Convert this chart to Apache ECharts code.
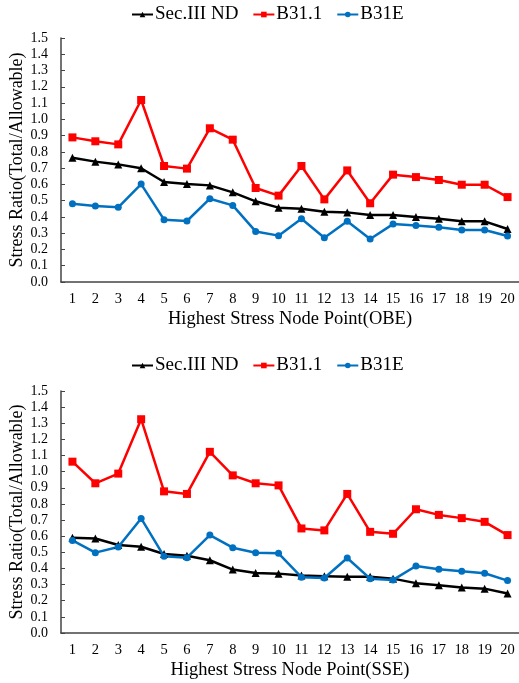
<!DOCTYPE html>
<html>
<head>
<meta charset="utf-8">
<script src="https://cdn.jsdelivr.net/npm/echarts@6/dist/echarts.min.js"></script>
<style>
  html, body { margin: 0; padding: 0; background: #fff; }
  #chart { width: 519px; height: 683px; }
</style>
</head>
<body>
<div id="chart"></div>
<script>
// Node points along the x axis
const nodes = ['1','2','3','4','5','6','7','8','9','10','11','12','13','14','15','16','17','18','19','20'];

// OBE load case: stress ratios per code
const obeSecIII = [0.764, 0.740, 0.723, 0.699, 0.615, 0.602, 0.594, 0.551, 0.496, 0.457,
                   0.451, 0.432, 0.428, 0.412, 0.412, 0.400, 0.389, 0.373, 0.373, 0.326];
const obeB311   = [0.889, 0.865, 0.846, 1.119, 0.713, 0.697, 0.945, 0.875, 0.578, 0.531,
                   0.713, 0.508, 0.686, 0.484, 0.660, 0.645, 0.627, 0.598, 0.598, 0.522];
const obeB31E   = [0.481, 0.467, 0.459, 0.602, 0.383, 0.375, 0.512, 0.471, 0.311, 0.285,
                   0.389, 0.272, 0.373, 0.264, 0.356, 0.348, 0.336, 0.320, 0.320, 0.283];

// SSE load case: stress ratios per code
const sseSecIII = [0.590, 0.586, 0.545, 0.535, 0.490, 0.479, 0.451, 0.393, 0.372, 0.368,
                   0.356, 0.352, 0.348, 0.348, 0.337, 0.309, 0.296, 0.282, 0.275, 0.245];
const sseB311   = [1.062, 0.928, 0.988, 1.325, 0.878, 0.862, 1.123, 0.977, 0.928, 0.915,
                   0.648, 0.636, 0.862, 0.627, 0.615, 0.767, 0.732, 0.712, 0.689, 0.607];
const sseB31E   = [0.574, 0.498, 0.533, 0.710, 0.475, 0.467, 0.607, 0.529, 0.498, 0.494,
                   0.346, 0.341, 0.465, 0.337, 0.329, 0.415, 0.395, 0.383, 0.370, 0.325];

const seriesNames = ['Sec.III ND', 'B31.1', 'B31E'];
const xTitles = ['Highest Stress Node Point(OBE)', 'Highest Stress Node Point(SSE)'];
const yTitle = 'Stress Ratio(Total/Allowable)';

const FONT = '"Liberation Serif", "DejaVu Serif", serif';
const styles = [
  { color: '#000000', symbol: 'triangle', symbolSize: 8 },
  { color: '#ff0000', symbol: 'rect', symbolSize: 8 },
  { color: '#0070c0', symbol: 'circle', symbolSize: 7 }
];

const grids = [
  { left: 61, top: 38, width: 458, height: 244, outerBoundsMode: 'none', containLabel: false },
  { left: 61, top: 391, width: 458, height: 242, outerBoundsMode: 'none', containLabel: false }
];

function xAxis(i) {
  return {
    type: 'category', gridIndex: i, data: nodes, boundaryGap: true,
    name: xTitles[i], nameLocation: 'middle', nameGap: 28,
    nameTextStyle: { fontFamily: FONT, fontSize: 18.5, color: '#000' },
    axisLine: { lineStyle: { color: '#444', width: 1.5 } },
    axisTick: { alignWithLabel: true, inside: true, length: 4, lineStyle: { color: '#444' } },
    axisLabel: { fontFamily: FONT, fontSize: 14.5, color: '#000', margin: 10, interval: 0 },
    splitLine: { show: false }
  };
}
function yAxis(i) {
  return {
    type: 'value', gridIndex: i, min: 0, max: 1.5, interval: 0.1,
    name: yTitle, nameLocation: 'middle', nameGap: 35, nameRotate: 90,
    nameMoveOverlap: false,
    nameTextStyle: { fontFamily: FONT, fontSize: 18, color: '#000' },
    axisLine: { show: true, lineStyle: { color: '#444', width: 1.5 } },
    axisTick: { show: true, inside: true, length: 4, lineStyle: { color: '#444' } },
    axisLabel: { fontFamily: FONT, fontSize: 14, color: '#000', margin: 13,
                 formatter: v => v.toFixed(1) },
    splitLine: { show: false }
  };
}

const sets = [[obeSecIII, obeB311, obeB31E], [sseSecIII, sseB311, sseB31E]];
const series = [];
sets.forEach((group, gi) => {
  group.forEach((vals, si) => {
    series.push({
      type: 'line', name: seriesNames[si], xAxisIndex: gi, yAxisIndex: gi,
      data: vals, symbol: styles[si].symbol, symbolSize: styles[si].symbolSize,
      showAllSymbol: true,
      lineStyle: { color: styles[si].color, width: 2.5 },
      itemStyle: { color: styles[si].color },
      animation: false
    });
  });
});

const legendBase = {
  data: seriesNames, itemWidth: 21, itemHeight: 7, itemGap: 14,
  textStyle: { fontFamily: FONT, fontSize: 19, color: '#000', padding: [0, 0, 0, -3] },
  left: 126
};

const chart = echarts.init(document.getElementById('chart'));
chart.setOption({
  backgroundColor: '#fff',
  animation: false,
  legend: [
    Object.assign({}, legendBase, { top: 0 }),
    Object.assign({}, legendBase, { top: 351 })
  ],
  grid: grids,
  xAxis: [xAxis(0), xAxis(1)],
  yAxis: [yAxis(0), yAxis(1)],
  series: series
});
</script>
</body>
</html>
